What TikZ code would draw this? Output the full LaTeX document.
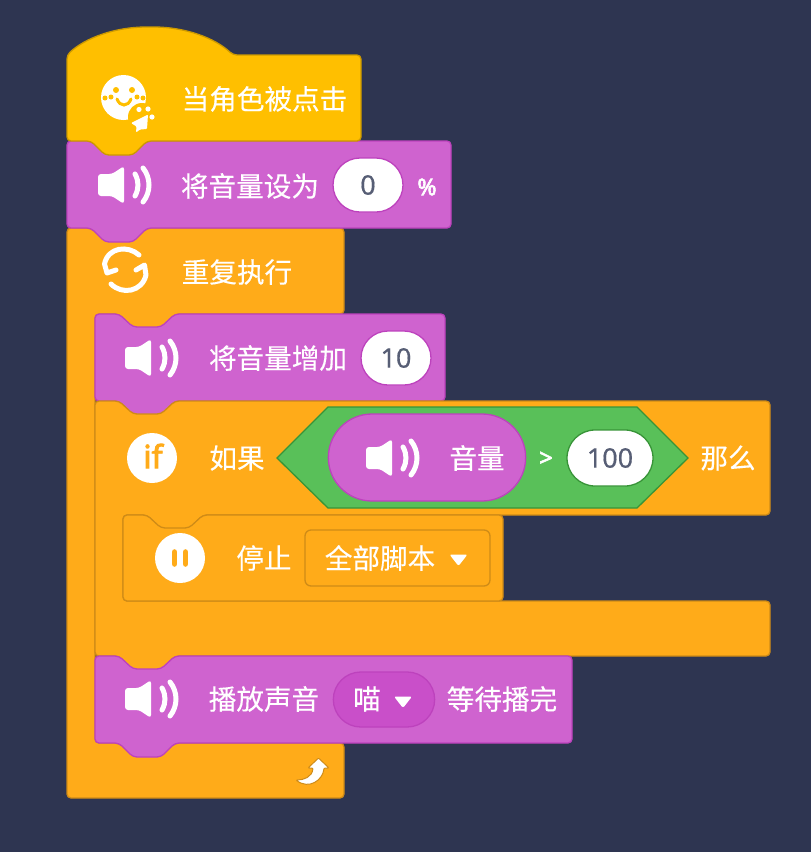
\documentclass[tikz,border=0pt]{standalone}
\usepackage{fontspec}
\setmainfont{Noto Sans}
\newfontfamily\cjk[FakeBold=0.25]{Noto Sans CJK SC}
\newfontfamily\valfont[FakeBold=0.5]{Noto Sans}
\newfontfamily\heavy[FakeBold=2.8]{Noto Sans}
\usetikzlibrary{shapes.misc}
\definecolor{bgcol}{HTML}{2E3551}
\definecolor{hatfill}{HTML}{FFBF00}
\definecolor{hatline}{HTML}{CC9900}
\definecolor{soundfill}{HTML}{CF63CF}
\definecolor{soundline}{HTML}{BD42BD}
\definecolor{sounddark}{HTML}{C94FC9}
\definecolor{ctrlfill}{HTML}{FFAB19}
\definecolor{ctrlline}{HTML}{CF8B17}
\definecolor{opfill}{HTML}{59C059}
\definecolor{opline}{HTML}{389438}
\definecolor{valtext}{HTML}{575E75}
% top notch and bottom tab of a block, at left edge #1 and height #2
\newcommand{\notchtop}[2]{-- (#1+24,#2) -- (#1+38,#2+13) -- (#1+66,#2+13) -- (#1+80,#2)}
\newcommand{\tabbottom}[2]{-- (#1+80,#2) -- (#1+66,#2+14) -- (#1+38,#2+14) -- (#1+24,#2)}
\tikzset{
    hatblock/.style={draw=hatline, fill=hatfill, line width=1.3pt, rounded corners=4pt},
    soundblock/.style={draw=soundline, fill=soundfill, line width=1.3pt, rounded corners=4pt},
    ctrlblock/.style={draw=ctrlline, fill=ctrlfill, line width=1.3pt, rounded corners=4pt},
    lbl/.style={text=white, inner sep=0pt, font=\fontsize{27.6}{27.6}\selectfont\cjk},
    sym/.style={text=white, inner sep=0pt, font=\fontsize{24}{24}\selectfont\heavy},
    valpill/.style={rounded rectangle, draw=soundline, fill=white, line width=1.3pt, text=valtext,
        inner sep=0pt, font=\fontsize{27}{27}\selectfont\valfont},
    pics/speaker/.style={code={
        \fill[white, rounded corners=3pt] (-27,-11) -- (-13,-11) -- (-1,-19) -- (-1,19) -- (-13,11) -- (-27,11) -- cycle;
        \draw[white, line width=5pt, line cap=round] (10,-11) .. controls (14,-4) and (14,4) .. (10,11);
        \draw[white, line width=5pt, line cap=round] (18,-17) .. controls (26,-7) and (26,7) .. (18,17);
    }},
}
\begin{document}
\begin{tikzpicture}[x=1pt, y=-1pt]
    \fill[bgcol] (0,0) rectangle (811,852);
    \useasboundingbox (0,0) rectangle (811,852);
    % Repeat
    \draw[ctrlblock] (67,228) \notchtop{67}{228} -- (344,228) -- (344,314) \tabbottom{95}{314} -- (95,314)
        -- (95,743) \notchtop{95}{743} -- (344,743) -- (344,798) -- (67,798) -- cycle;
    % Volume add
    \draw[soundblock] (95,314) \notchtop{95}{314} -- (445,314) -- (445,401) \tabbottom{95}{401} -- (95,401) -- cycle;
    % If
    \draw[ctrlblock] (95,401) \notchtop{95}{401} -- (770,401) -- (770,515) \tabbottom{123}{515} -- (123,515)
        -- (123,601) -- (770,601) -- (770,656) \tabbottom{95}{656} -- (95,656) -- cycle;
    % Stop
    \draw[ctrlblock] (123,515) \notchtop{123}{515} -- (503,515) -- (503,601) -- (123,601) -- cycle;
    % Play sound
    \draw[soundblock] (95,656) \notchtop{95}{656} -- (572,656) -- (572,743) \tabbottom{95}{743} -- (95,743) -- cycle;
    % Set volume
    \draw[soundblock] (67,141) \notchtop{67}{141} -- (451,141) -- (451,228) \tabbottom{67}{228} -- (67,228) -- cycle;
    % Hat
    \draw[hatblock] (67,141) -- (67,55) .. controls (85,38) and (115,27) .. (150,27)
        .. controls (185,27) and (215,38) .. (233,55) -- (361,55) -- (361,141) \tabbottom{67}{141} -- cycle;
    % Hat icon
    \fill[white] (123.5,97.5) circle (22.5);
    \fill[hatfill] (116,90) circle (3) (132,90) circle (3) (105,98) circle (2.5) (111,97) circle (2.5)
        (137,97) circle (2.5) (143,98) circle (2.5) (142,117) circle (14);
    \draw[hatfill, line width=3pt, line cap=round] (117,99) .. controls (120,107) and (128,107) .. (131,99);
    \fill[white] (139,109.5) circle (2.6) (148,109) circle (2.6) (152,117) circle (2.6);
    \fill[white, rounded corners=1pt] (148,114.5) -- (131,123) -- (136.5,126.5) -- (136,132.5) -- (140,129.5) -- (147,129) -- cycle;
    \node[lbl] (txtHat) at (264.5,99) {当角色被点击};
    % Set volume row
    \pic at (125,185) {speaker};
    \node[lbl] (txtSet) at (250,186) {将音量设为};
    \node[valpill, minimum width=70pt, minimum height=54pt] (pillSet) at (368,185) {0};
    \node[sym] (txtPct) at (427,187) {\fontsize{23}{23}\selectfont\%};
    % Repeat icon
    \draw[white, line width=5pt, line cap=round, line join=round] (139,255) .. controls (128,245) and (108,247) .. (104.5,264) -- (107,273) -- (116,270);
    \draw[white, line width=5pt, line cap=round, line join=round] (111,284) .. controls (122,295) and (142,292) .. (146,275) -- (144.5,265) -- (136,270);
    \node[lbl] (txtRepeat) at (237,272) {重复执行};
    % Volume add row
    \pic at (152,358) {speaker};
    \node[lbl] (txtAdd) at (278,358) {将音量增加};
    \node[valpill, minimum width=70pt, minimum height=54pt] (pillAdd) at (396,358) {10};
    % If row
    \fill[white] (152,458) circle (25);
    \node[inner sep=0pt, text=ctrlfill, font=\fontsize{32}{32}\selectfont\heavy] (txtIf) at (153,456) {if};
    \node[lbl] (txtIfA) at (237,458) {如果};
    \draw[draw=opline, fill=opfill, line width=1.3pt] (277,458) -- (328,407) -- (637,407) -- (688,458) -- (637,508) -- (328,508) -- cycle;
    \node[rounded rectangle, draw=soundline, fill=soundfill, line width=1.3pt, minimum width=204pt, minimum height=87pt] (pillVol) at (427,457.5) {};
    \pic at (393,458) {speaker};
    \node[lbl] (txtVol) at (477,458) {音量};
    \node[sym] (txtGt) at (546,459) {>};
    \node[valpill, draw=opline, minimum width=86pt, minimum height=56pt] (pillCmp) at (610,458) {100};
    \node[lbl] (txtThen) at (728,458) {那么};
    % Stop row
    \fill[white] (180,558) circle (25);
    \draw[ctrlfill, line width=5.6pt, line cap=round] (174.5,552) -- (174.5,564);
    \draw[ctrlfill, line width=5.6pt, line cap=round] (185.5,552) -- (185.5,564);
    \node[lbl] (txtStop) at (264,558) {停止};
    \draw[draw=ctrlline, line width=1.3pt, rounded corners=6pt] (305,530) rectangle (490,586);
    \node[lbl] (txtAll) at (380,558) {全部脚本};
    \fill[white, rounded corners=2pt] (449.5,554.5) -- (467.5,554.5) -- (458.5,566) -- cycle;
    % Play sound row
    \pic at (152,699) {speaker};
    \node[lbl] (txtPlay) at (264,699) {播放声音};
    \node[rounded rectangle, draw=soundline, fill=sounddark, line width=1.3pt, minimum width=108pt, minimum height=55pt] (pillMeow) at (384,699.5) {};
    \node[lbl] (txtMeow) at (367,699) {喵};
    \fill[white, rounded corners=2pt] (394,696.5) -- (412,696.5) -- (403,708) -- cycle;
    \node[lbl] (txtWait) at (502,699) {等待播完};
    % Return arrow
    \draw[draw=ctrlline, fill=white, line width=1pt, rounded corners=1pt] (318.5,758) -- (329,768) -- (324,768)
        .. controls (323,780) and (309,790) .. (296,780) .. controls (304,780) and (312,777) .. (313,768) -- (308,768) -- cycle;
\end{tikzpicture}
\end{document}
